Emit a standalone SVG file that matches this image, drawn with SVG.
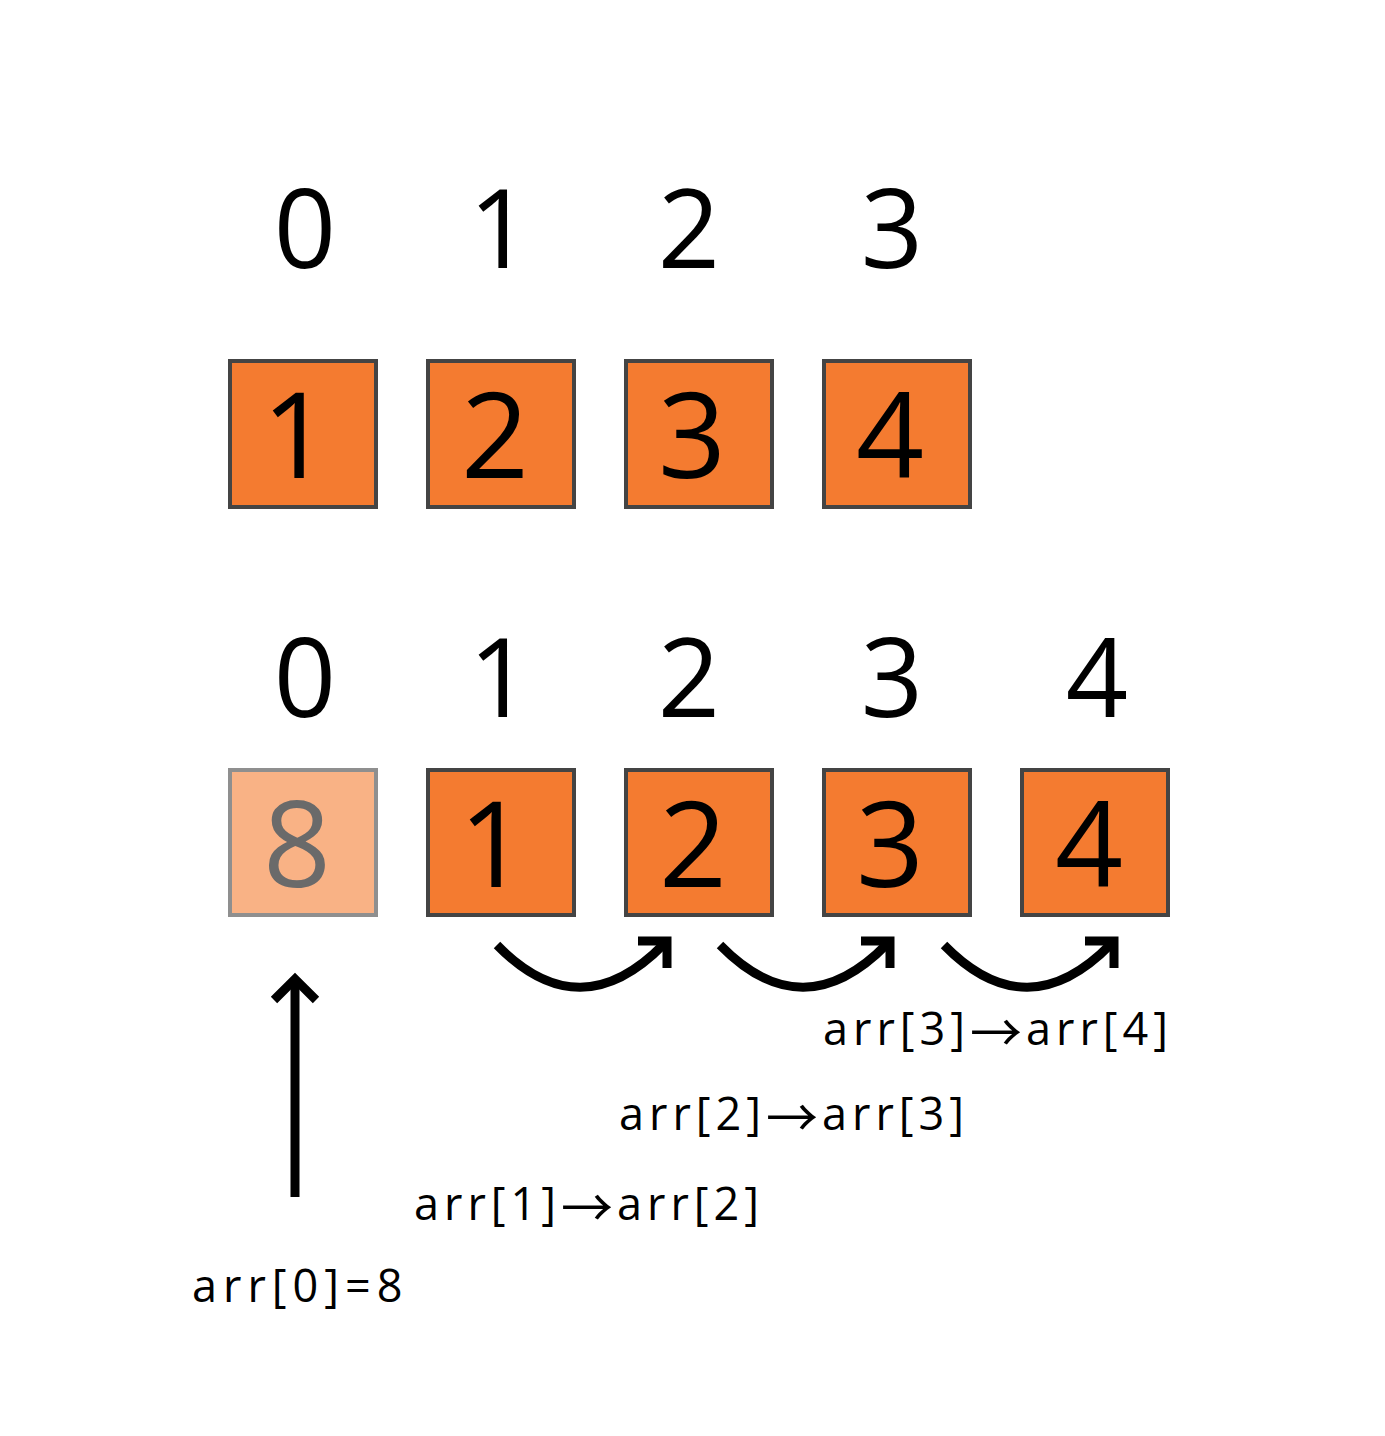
<svg xmlns="http://www.w3.org/2000/svg" width="1385" height="1436" viewBox="0 0 1385 1436">
<style>
.idx{font-family:"Open Sans","Liberation Sans",sans-serif;font-size:109px;fill:#000;text-anchor:middle}
.box{fill:#f47b30;stroke:#444;stroke-width:4}
.boxl{fill:#f9b285;stroke:#8f8f8f;stroke-width:4}
.val{font-family:"Open Sans","Liberation Sans",sans-serif;font-size:119px;fill:#000;text-anchor:middle}
.vall{font-family:"Open Sans","Liberation Sans",sans-serif;font-size:119px;fill:#6a6a6a;text-anchor:middle}
.lbl{font-family:"Open Sans","Liberation Sans",sans-serif;font-size:45px;fill:#000;letter-spacing:5px}
.ar{font-family:"Noto Sans CJK SC","DejaVu Sans",sans-serif;font-size:52px;letter-spacing:0}
.arr{fill:none;stroke:#000;stroke-width:9}
.head{fill:none;stroke:#000;stroke-width:9;stroke-linejoin:miter;stroke-miterlimit:10}
</style>
<rect width="1385" height="1436" fill="#fff"/>
<g id="top-indices">
<text class="idx" x="305" y="268">0</text>
<text class="idx" x="500" y="268">1</text>
<text class="idx" x="689" y="268">2</text>
<text class="idx" x="892" y="268">3</text>
</g>
<g id="top-box-0"><rect class="box" x="230" y="361" width="146" height="146"/><text class="val" x="296" y="478">1</text></g>
<g id="top-box-1"><rect class="box" x="428" y="361" width="146" height="146"/><text class="val" x="495" y="478">2</text></g>
<g id="top-box-2"><rect class="box" x="626" y="361" width="146" height="146"/><text class="val" x="692" y="478">3</text></g>
<g id="top-box-3"><rect class="box" x="824" y="361" width="146" height="146"/><text class="val" x="890" y="478">4</text></g>
<g id="bottom-indices">
<text class="idx" x="305" y="717">0</text>
<text class="idx" x="500" y="717">1</text>
<text class="idx" x="689" y="717">2</text>
<text class="idx" x="892" y="717">3</text>
<text class="idx" x="1097" y="717">4</text>
</g>
<g id="bot-box-0"><rect class="boxl" x="230" y="770" width="146" height="145"/><text class="vall" x="297" y="887">8</text></g>
<g id="bot-box-1"><rect class="box" x="428" y="770" width="146" height="145"/><text class="val" x="493" y="887">1</text></g>
<g id="bot-box-2"><rect class="box" x="626" y="770" width="146" height="145"/><text class="val" x="693" y="887">2</text></g>
<g id="bot-box-3"><rect class="box" x="824" y="770" width="146" height="145"/><text class="val" x="890" y="887">3</text></g>
<g id="bot-box-4"><rect class="box" x="1022" y="770" width="146" height="145"/><text class="val" x="1089" y="887">4</text></g>
<g id="connectors">
<path class="arr" d="M497,945 Q580,1030 664,944"/>
<path class="head" d="M638,941 L667,941 L667,968"/>
<path class="arr" d="M720,945 Q803,1030 887,944"/>
<path class="head" d="M861,941 L890,941 L890,968"/>
<path class="arr" d="M944,945 Q1027,1030 1111,944"/>
<path class="head" d="M1085,941 L1114,941 L1114,968"/>
<path class="arr" d="M295,1197 L295,980"/>
<path class="head" d="M274,1000 L295,979 L316,1000"/>
</g>
<g id="labels">
<text class="lbl" y="1045"><tspan x="823">arr[3]</tspan><tspan class="ar" x="970" y="1052">→</tspan><tspan x="1026" y="1045">arr[4]</tspan></text>
<text class="lbl" y="1130"><tspan x="619">arr[2]</tspan><tspan class="ar" x="766" y="1137">→</tspan><tspan x="822" y="1130">arr[3]</tspan></text>
<text class="lbl" y="1220"><tspan x="414">arr[1]</tspan><tspan class="ar" x="561" y="1227">→</tspan><tspan x="617" y="1220">arr[2]</tspan></text>
<text class="lbl" x="192" y="1302" style="letter-spacing:6px">arr[0]=8</text>
</g>
</svg>
